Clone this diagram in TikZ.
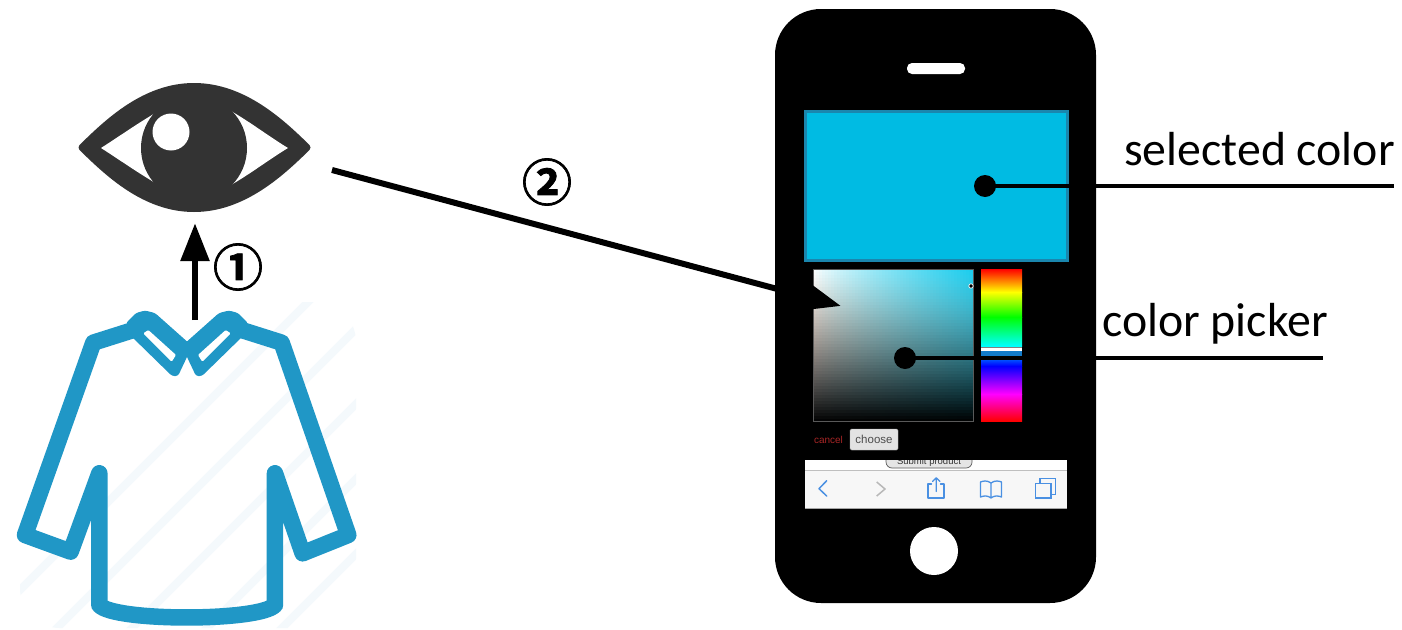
\documentclass[tikz,border=0pt]{standalone}
\usepackage{fontspec}
\setmainfont{Carlito}
\newfontfamily\circfont{Noto Sans CJK JP}[BoldFont={* Bold},BoldFeatures={FakeBold=1.6}]
\newfontfamily\uifont{Liberation Sans}
\usetikzlibrary{arrows.meta,calc}
\definecolor{shirtblue}{HTML}{2097C6}
\definecolor{stripe}{HTML}{F4F9FC}
\definecolor{eyedark}{HTML}{333333}
\definecolor{selcol}{HTML}{00BBE3}
\definecolor{selborder}{HTML}{1A86AE}
\definecolor{iosblue}{HTML}{4A90E2}
\tikzset{
  thickarrow/.style={line width=6pt,-{Triangle[length=38pt,width=28pt]}},
  leader/.style={line width=3.8pt},
  dotnode/.style={circle,fill=black,minimum size=22pt,inner sep=0pt},
  biglabel/.style={font=\fontsize{47.8}{48}\selectfont,anchor=base west,inner sep=0pt},
  circnum/.style={font=\circfont\bfseries\fontsize{50}{50}\selectfont,inner sep=0pt},
  shirtline/.style={draw=shirtblue,line width=16.5pt,line join=round,line cap=round},
  stripeline/.style={draw=stripe,line width=8pt},
  tool/.style={draw=iosblue,line width=1.3pt,line join=round,line cap=round},
}
\begin{document}
\begin{tikzpicture}[x=1pt,y=-1pt]
\useasboundingbox (0,0) rectangle (1402,629);
\fill[white] (0,0) rectangle (1402,629);

% shirt background stripes
\begin{scope}
\clip[rounded corners=40pt] (20,302) rectangle (356,628);
\foreach \a in {60,135,210,285,360,435,510,585,660,735}{
  \draw[stripeline] (\a-90,640) -- (\a+260,290);
}
\end{scope}

% shirt
\begin{scope}[shift={(0pt,-290pt)},x=0.3333pt,y=-0.3333pt]
\draw[shirtline] (400,120) -- (280,158) -- (75,735) -- (212,785) -- (298,550) -- (298,945)
  .. controls (340,995) and (780,995) .. (825,945) -- (825,550) -- (908,790) -- (1045,735) -- (845,158) -- (725,120);
\end{scope}
\foreach \m in {0,1}{
  \begin{scope}[xshift={\m*374pt},xscale={1-2*\m}]
  \fill[shirtblue,rounded corners=2.5pt] (126,323) -- (136,313) -- (145,310.5) -- (155,313) -- (191,345) -- (187,357) -- (178,376) -- (172,376) -- (130,335) -- cycle;
  \fill[white,rounded corners=1pt] (143.3,333.3) -- (148.3,330) -- (176,355) -- (171.7,361.7) -- cycle;
  \end{scope}
}
\coordinate (shirttop) at (195,320);

% eye
\node[inner sep=0pt,minimum size=0pt] (eye) at (195,223) {};
\path[fill=eyedark,draw=eyedark,line width=7pt,line join=round] (82,147.5) .. controls (108,122) and (145,86.5) .. (194,86.5)
  .. controls (243,86.5) and (281,122) .. (307,147.5)
  .. controls (281,173) and (243,208.5) .. (194,208.5)
  .. controls (145,208.5) and (108,173) .. (82,147.5) -- cycle;
\fill[white] (101,148) .. controls (120,136) and (145,118) .. (168,106) -- (222,106)
  .. controls (245,118) and (268,136) .. (288,148)
  .. controls (268,160) and (245,178) .. (222,190) -- (168,190)
  .. controls (145,178) and (120,160) .. (101,148) -- cycle;
\fill[eyedark] (194,148) circle[radius=53];
\fill[white] (171,132) circle[radius=18.5];

% phone
\fill[black,rounded corners=46pt] (775,9) rectangle (1096,603);
\fill[white,rounded corners=5pt] (907,63) rectangle (965,74);
\fill[white] (934,551) circle[radius=24];
\draw[selborder,fill=selcol,line width=3pt] (805.5,111.5) rectangle (1067.5,260.5);

% colour picker
\foreach \i in {0,...,53}{
  \foreach \j in {0,...,50}{
    \pgfmathsetmacro{\u}{((\i+.5)/54)^.8}
    \pgfmathsetmacro{\t}{(\j+.5)/51}
    \pgfmathsetmacro{\v}{1-\t^1.4}
    \pgfmathsetmacro{\b}{sin(180*\t)}
    \pgfmathsetmacro{\rr}{\v*((1-\u)*1+\u*(.09+.25*\b*.91))}
    \pgfmathsetmacro{\gg}{\v*((1-\u)*(1-.07*\b)+\u*(.8+.25*\b*.2))}
    \pgfmathsetmacro{\bb}{\v*((1-\u)*(1-.11*\b)+\u*(.93+.25*\b*.07))}
    \definecolor{cellcol}{rgb}{\rr,\gg,\bb}
    \fill[cellcol] (813+\i*3,269+\j*3) rectangle (813+\i*3+3.4,269+\j*3+3.4);
  }
}
\fill[black] (973,269) rectangle (978,425);
\fill[black] (810,421) rectangle (978,425);
\draw[gray!70!black,line width=.7pt] (813,269) rectangle (973,421);
\draw[white,fill=black,line width=.7pt] (971,286) circle[radius=2.2];

% hue bar
\shade[top color=red,bottom color=yellow] (981,269) rectangle (1022,292);
\shade[top color=yellow,bottom color=green] (981,292) rectangle (1022,317);
\shade[top color=green,bottom color=cyan] (981,317) rectangle (1022,346);
\fill[white] (981,347) rectangle (1022,351);
\draw[gray,line width=.6pt] (981,347) -- (1022,347) (981,351) -- (1022,351);
\fill[cyan!60!blue] (981,351) rectangle (1022,360);
\shade[top color=cyan!40!blue,bottom color=blue] (981,358) rectangle (1022,366);
\shade[top color=blue,bottom color=magenta] (981,366) rectangle (1022,394);
\shade[top color=magenta,bottom color=red] (981,394) rectangle (1022,421);

\node[font=\uifont\fontsize{10}{10}\selectfont,text=red!60!black!85!white,inner sep=0pt] (cancel) at (828.5,440) {cancel};
\node[draw=gray!60,fill=gray!22,rounded corners=1.5pt,minimum width=48pt,minimum height=21pt,inner sep=0pt,font=\uifont\fontsize{11.5}{12}\selectfont,text=black!70] (choose) at (874,439.5) {choose};

% browser bar
\fill[white] (805,460) rectangle (1067,471);
\fill[black!3] (805,471) rectangle (1067,508);
\draw[black!25,line width=.6pt] (805,470.5) -- (1067,470.5);
\draw[black!35,line width=.8pt] (805,508) -- (1067,508);
\begin{scope}
\clip (805,460) rectangle (1067,471);
\draw[gray!70!black,fill=gray!20,rounded corners=6pt,line width=.7pt] (886,440) rectangle (972,468);
\node[font=\uifont\fontsize{9.5}{10}\selectfont,text=black!80,inner sep=0pt,anchor=base] (submit) at (929,464.5) {Submit product};
\end{scope}
\draw[tool,line width=1.5pt] (826.7,480.7) -- (819,488.7) -- (826.7,496);
\draw[draw=black!28,line width=1.5pt,line join=round] (876.7,482) -- (885,489) -- (876.7,496);
\draw[tool] (931.5,484) -- (928,484) -- (928,498) -- (944,498) -- (944,484) -- (940.5,484);
\draw[tool] (936.2,491.5) -- (936.2,478) (932.5,481.5) -- (936.2,477.8) -- (940,481.5);
\draw[tool] (991,483) .. controls (987,480) and (983,481) .. (980.5,482) -- (980.5,497) .. controls (984,495.5) and (988,495.5) .. (991,498)
  .. controls (994,495.5) and (998,495.5) .. (1001.5,497) -- (1001.5,482) .. controls (999,481) and (995,480) .. (991,483) -- (991,498);
\draw[tool,line join=miter] (1035.7,483.3) rectangle (1051,498);
\draw[tool,line join=miter] (1040,483.3) -- (1040,478.7) -- (1055.7,478.7) -- (1055.7,494.3) -- (1051,494.3);

% connectors
\draw[thickarrow] (shirttop) -- (eye);
\coordinate (eyeout) at (332,170);
\coordinate (pickerin) at (841,306);
\draw[thickarrow] (eyeout) -- (pickerin);
\node[dotnode] (dotsel) at (985,186) {};
\coordinate (selend) at (1394,186);
\draw[leader] (dotsel.center) -- (selend);
\node[dotnode] (dotpick) at (905,358) {};
\coordinate (pickend) at (1323,358);
\draw[leader] (dotpick.center) -- (pickend);

% labels
\node[biglabel] (sellabel) at (1124,165) {selected color};
\node[biglabel] (picklabel) at (1102,336) {color picker};
\node[circnum] (one) at (238,267) {①};
\node[circnum] (two) at (547,182) {②};
\end{tikzpicture}
\end{document}
